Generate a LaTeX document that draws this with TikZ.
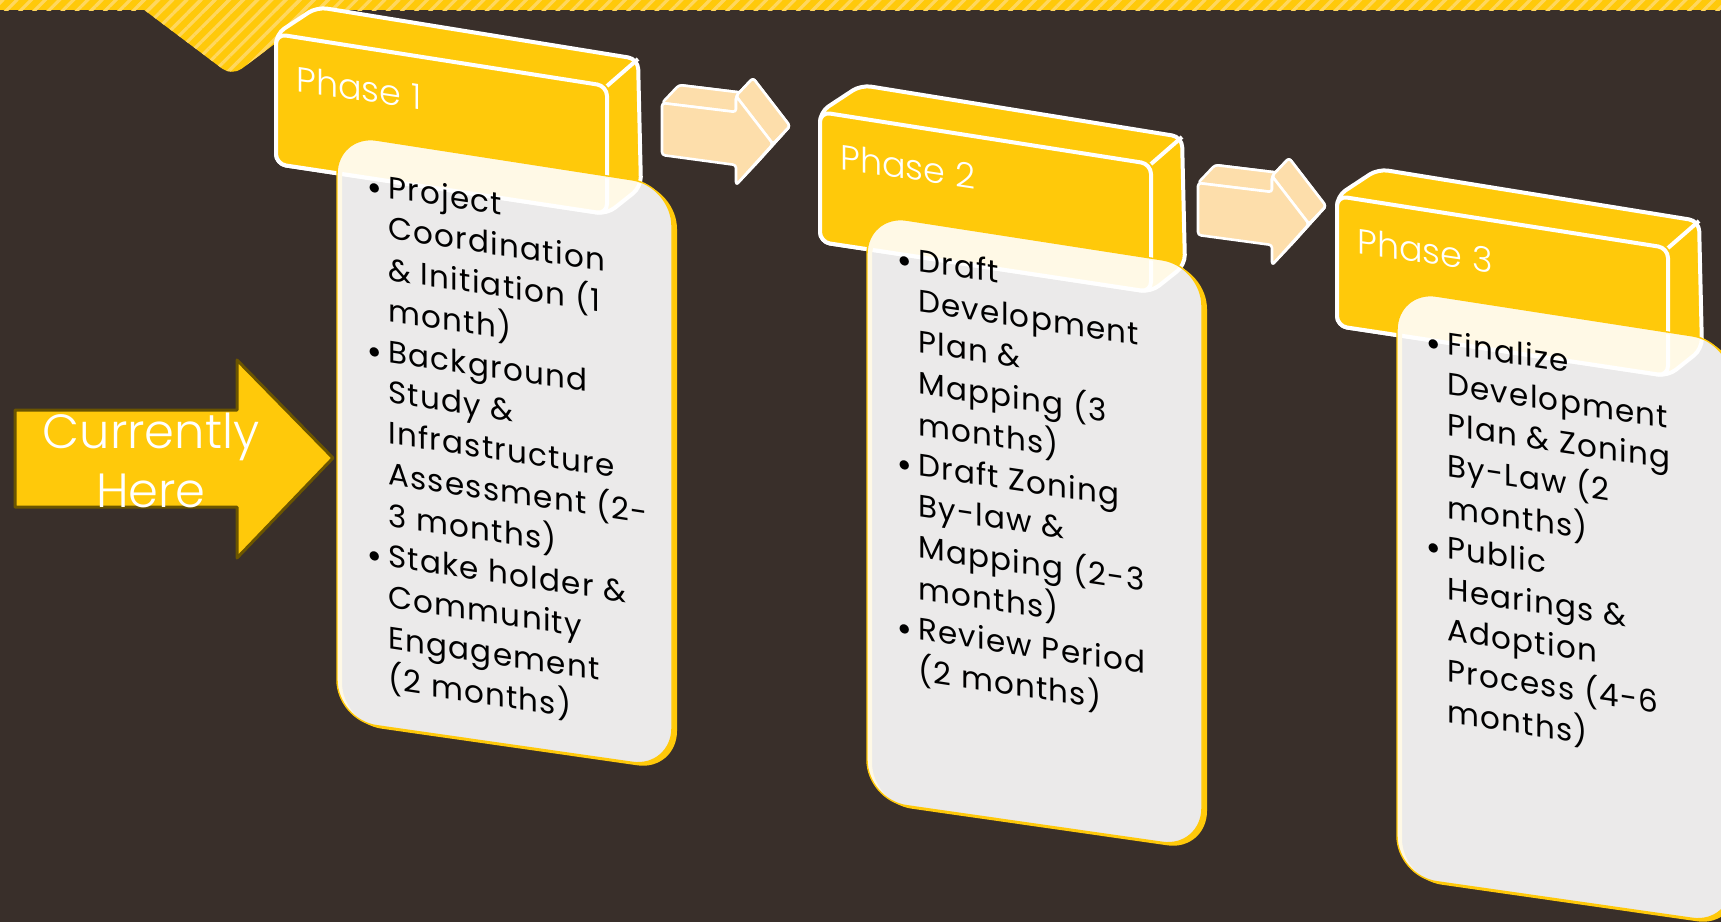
\documentclass[tikz,border=0pt]{standalone}
\usepackage{fontspec}
\setmainfont{Poppins}
\newfontfamily\lightfont{Poppins Light}
\usetikzlibrary{patterns.meta}
\definecolor{bgbrown}{HTML}{392F2A}
\definecolor{gold}{HTML}{FFC90A}
\definecolor{goldline}{HTML}{6B5500}
\definecolor{stripe}{HTML}{FFD75E}
\definecolor{peach}{HTML}{FDDEAB}
\newcommand{\itm}{\raisebox{1pt}{\fontsize{13}{13}\selectfont$\bullet$}}
\tikzset{
  face/.style={fill=gold,draw=white,line width=2pt,rounded corners=5pt},
  tabface/.style={fill=peach,draw=white,line width=1.3pt,rounded corners=1.5pt},
  card/.style={fill=white,fill opacity=.9,draw=gold,line width=.7pt,rounded corners=20pt},
  phaselabel/.style={text=white,font=\lightfont\fontsize{17.5}{20}\selectfont,yslant=-.15,anchor=base west,inner sep=0pt},
  itemtext/.style={text=black,font=\fontsize{15.5}{20.4}\selectfont\addfontfeatures{LetterSpace=4},yslant=-.15,anchor=base west,inner sep=0pt},
  heretext/.style={text=white,font=\lightfont\fontsize{24}{28}\selectfont,anchor=base,inner sep=0pt}
}
\begin{document}
\begin{tikzpicture}[x=0.5pt,y=-0.5pt,line join=round]
	\useasboundingbox (0,0) rectangle (1721,922);
	\fill[bgbrown] (0,0) rectangle (1721,922);
	% striped band and notch
	\fill[gold] (0,0) rectangle (1721,10);
	\fill[gold] (131,0) [rounded corners=6pt] -- (232,76) [sharp corners] -- (333,0) -- cycle;
	\fill[pattern={Lines[angle=45,distance=5pt,line width=1.6pt]},pattern color=stripe] (0,0) rectangle (1721,10);
	\fill[pattern={Lines[angle=45,distance=5pt,line width=1.6pt]},pattern color=stripe] (131,0) [rounded corners=6pt] -- (232,76) [sharp corners] -- (333,0) -- cycle;
	% phase boxes
	\foreach \i/\px/\py in {1/276/34,2/820/112,3/1337/196}{
		\begin{scope}[shift={(\px,\py)}]
			\draw[face] (0,130) -- (0,0) -- (41,-27) -- (362,25) -- (365,153) -- (331,180) -- cycle;
			\draw[face] (0,0) -- (331,52) -- (331,180) -- (0,130) -- cycle;
			\draw[white,line width=2pt] (331,52) -- (362,25);
			\node[phaselabel] (phase\i) at (20,57) {Phase \i};
		\end{scope}
	}
	% cards
	\foreach \i/\cx/\cy in {1/337/134,2/867/214,3/1397/290}{
		\begin{scope}[shift={(\cx,\cy)}]
			\fill[gold,even odd rule,rounded corners=20pt] (5,3) -- (340,55) -- (340,637) -- (5,589) -- cycle
				(0,0) -- (335,52) -- (335,634) -- (0,586) -- cycle;
			\draw[card] (0,0) -- (335,52) -- (335,634) -- (0,586) -- cycle;
		\end{scope}
	}
	% arrows between phases
	\foreach \ax/\ay in {662/103,1198/183}{
		\begin{scope}[shift={(\ax,\ay)}]
			\draw[tabface] (17,-18) -- (91,-9) -- (91,-25) -- (128,23) -- (91,64) -- (91,44) -- (17,34) -- cycle;
			\draw[tabface] (0,0) -- (74,9) -- (91,-9) -- (17,-18) -- cycle;
			\draw[tabface] (74,9) -- (74,-7) -- (91,-25) -- (91,-9) -- cycle;
			\draw[tabface] (74,-7) -- (111,41) -- (128,23) -- (91,-25) -- cycle;
			\draw[tabface] (111,41) -- (74,82) -- (91,64) -- (128,23) -- cycle;
			\draw[tabface] (0,0) -- (74,9) -- (74,-7) -- (111,41) -- (74,82) -- (74,62) -- (0,52) -- cycle;
		\end{scope}
	}
	% currently here
	\draw[fill=gold,draw=goldline,line width=1.5pt] (15,410) -- (237,410) -- (237,360) -- (333,458) -- (237,558) -- (237,507) -- (15,507) -- cycle;
	\node[heretext] (here1) at (151,448) {Currently};
	\node[heretext] (here2) at (151,507) {Here};
	% lists
	\node[itemtext] (list1) at (368,195) {\begin{tabular}[t]{@{}l@{\hspace{4pt}}l@{}}
		\itm & Project\\ & Coordination\\ & \& Initiation (1\\ & month)\\
		\itm & Background\\ & Study \&\\ & Infrastructure\\ & Assessment (2-\\ & 3 months)\\
		\itm & Stake holder \&\\ & Community\\ & Engagement\\ & (2 months)
	\end{tabular}};
	\node[itemtext] (list2) at (898,268) {\begin{tabular}[t]{@{}l@{\hspace{4pt}}l@{}}
		\itm & Draft\\ & Development\\ & Plan \&\\ & Mapping (3\\ & months)\\
		\itm & Draft Zoning\\ & By-law \&\\ & Mapping (2-3\\ & months)\\
		\itm & Review Period\\ & (2 months)
	\end{tabular}};
	\node[itemtext] (list3) at (1427,351) {\begin{tabular}[t]{@{}l@{\hspace{4pt}}l@{}}
		\itm & Finalize\\ & Development\\ & Plan \& Zoning\\ & By-Law (2\\ & months)\\
		\itm & Public\\ & Hearings \&\\ & Adoption\\ & Process (4-6\\ & months)
	\end{tabular}};
\end{tikzpicture}
\end{document}
